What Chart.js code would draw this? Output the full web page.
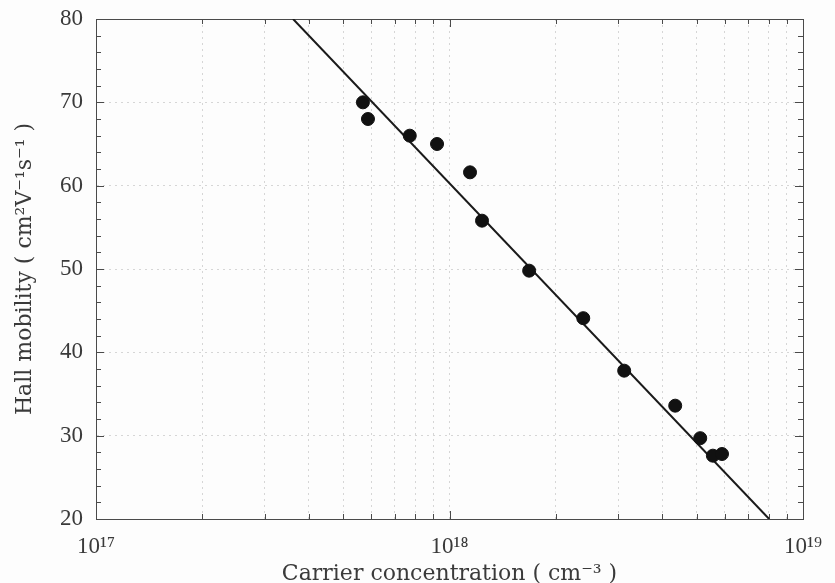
<!DOCTYPE html>
<html>
<head>
<meta charset="utf-8">
<script src="https://cdn.jsdelivr.net/npm/chart.js@4.4.1/dist/chart.umd.min.js"></script>
<style>
  html, body { margin: 0; padding: 0; background: #fdfdfd; }
  #wrap { width: 835px; height: 583px; }
</style>
</head>
<body>
<div id="wrap"><canvas id="chart"></canvas></div>
<script>
// measured points
const concentration = [5.69e17, 5.88e17, 7.72e17, 9.22e17, 1.143e18, 1.236e18, 1.68e18, 2.39e18, 3.12e18, 4.35e18, 5.12e18, 5.56e18, 5.90e18];
const mobility = [70.0, 68.0, 66.0, 65.0, 61.6, 55.8, 49.8, 44.1, 37.8, 33.6, 29.7, 27.6, 27.8];

// fitted line end points
const fitX = [3.61e17, 8.02e18];
const fitY = [80, 20];

// axis ticks
const decades = [1e17, 1e18, 1e19];
const decadeLabels = ['10¹⁷', '10¹⁸', '10¹⁹'];
const yMin = 20, yMax = 80, yStep = 2, yLabelStep = 10;

const serif = "'Liberation Serif', 'Times New Roman', serif";
const titleSerif = "'DejaVu Serif', serif";
const textColor = '#3a3a3a';
const gridColor = '#d6d6d6';

const frameTicks = {
  id: 'frameTicks',
  beforeDatasetsDraw(chart) {
    const {ctx, chartArea: a, scales: {x, y}} = chart;
    ctx.save();
    ctx.strokeStyle = '#4a4a4a';
    ctx.lineWidth = 1;
    ctx.strokeRect(a.left + 0.5, a.top + 0.5, a.right - a.left, a.bottom - a.top);
    ctx.beginPath();
    x.ticks.forEach(t => {
      const px = Math.round(x.getPixelForValue(t.value)) + 0.5;
      const len = decades.includes(t.value) ? 8 : 5;
      ctx.moveTo(px, a.bottom); ctx.lineTo(px, a.bottom - len);
      ctx.moveTo(px, a.top); ctx.lineTo(px, a.top + len);
    });
    y.ticks.forEach(t => {
      const py = Math.round(y.getPixelForValue(t.value)) + 0.5;
      const len = t.value % yLabelStep === 0 ? 8 : 5;
      ctx.moveTo(a.left, py); ctx.lineTo(a.left + len, py);
      ctx.moveTo(a.right, py); ctx.lineTo(a.right - len, py);
    });
    ctx.stroke();
    ctx.restore();
  }
};

const ctx = document.getElementById('chart').getContext('2d');
new Chart(ctx, {
  type: 'scatter',
  data: {
    datasets: [{
      label: 'Data',
      data: concentration.map((c, i) => ({x: c, y: mobility[i]})),
      backgroundColor: '#111',
      borderColor: '#111',
      pointRadius: 6.5,
      pointHoverRadius: 6.5,
      order: 1
    }, {
      label: 'Fit',
      data: fitX.map((c, i) => ({x: c, y: fitY[i]})),
      showLine: true,
      borderColor: '#1a1a1a',
      borderWidth: 2,
      pointRadius: 0,
      order: 2
    }]
  },
  options: {
    responsive: true,
    maintainAspectRatio: false,
    animation: false,
    events: [],
    layout: { padding: { top: 19, right: 32, left: 0, bottom: 0 } },
    plugins: {
      legend: { display: false },
      tooltip: { enabled: false }
    },
    scales: {
      x: {
        type: 'logarithmic',
        min: decades[0],
        max: decades[decades.length - 1],
        afterBuildTicks: scale => {
          const ticks = [];
          decades.forEach((d, i) => {
            ticks.push({value: d});
            if (i < decades.length - 1) {
              for (let k = 2; k <= 9; k++) ticks.push({value: k * d});
            }
          });
          scale.ticks = ticks;
        },
        afterFit: scale => {
          scale.height = 64;
          scale.paddingLeft = 0;
          scale.paddingRight = 0;
        },
        grid: { color: gridColor, lineWidth: 1, drawTicks: false },
        border: { display: true, color: '#4a4a4a', dash: [2, 4] },
        ticks: {
          autoSkip: false,
          maxRotation: 0,
          padding: 14,
          color: textColor,
          font: { family: serif, size: 23 },
          callback: v => {
            const i = decades.indexOf(v);
            return i >= 0 ? decadeLabels[i] : '';
          }
        },
        title: {
          display: true,
          text: 'Carrier concentration ( cm⁻³ )',
          color: textColor,
          font: { family: titleSerif, size: 22, lineHeight: 0.8 },
          padding: { top: 0, bottom: 0 }
        }
      },
      y: {
        min: yMin,
        max: yMax,
        afterFit: scale => {
          scale.width = 96;
          scale.paddingTop = 0;
          scale.paddingBottom = 0;
        },
        grid: {
          color: c => (c.tick && c.tick.value % yLabelStep === 0) ? gridColor : 'rgba(0,0,0,0)',
          lineWidth: 1,
          drawTicks: false
        },
        border: { display: true, color: '#4a4a4a', dash: [2, 4] },
        ticks: {
          stepSize: yStep,
          autoSkip: false,
          padding: 13,
          color: textColor,
          font: { family: serif, size: 23 },
          callback: v => (v % yLabelStep === 0 ? String(v) : '')
        },
        title: {
          display: true,
          text: 'Hall mobility ( cm²V⁻¹s⁻¹ )',
          color: textColor,
          font: { family: titleSerif, size: 22, lineHeight: 0.8 },
          padding: { top: 16, bottom: 0 }
        }
      }
    }
  },
  plugins: [frameTicks]
});
</script>
</body>
</html>
